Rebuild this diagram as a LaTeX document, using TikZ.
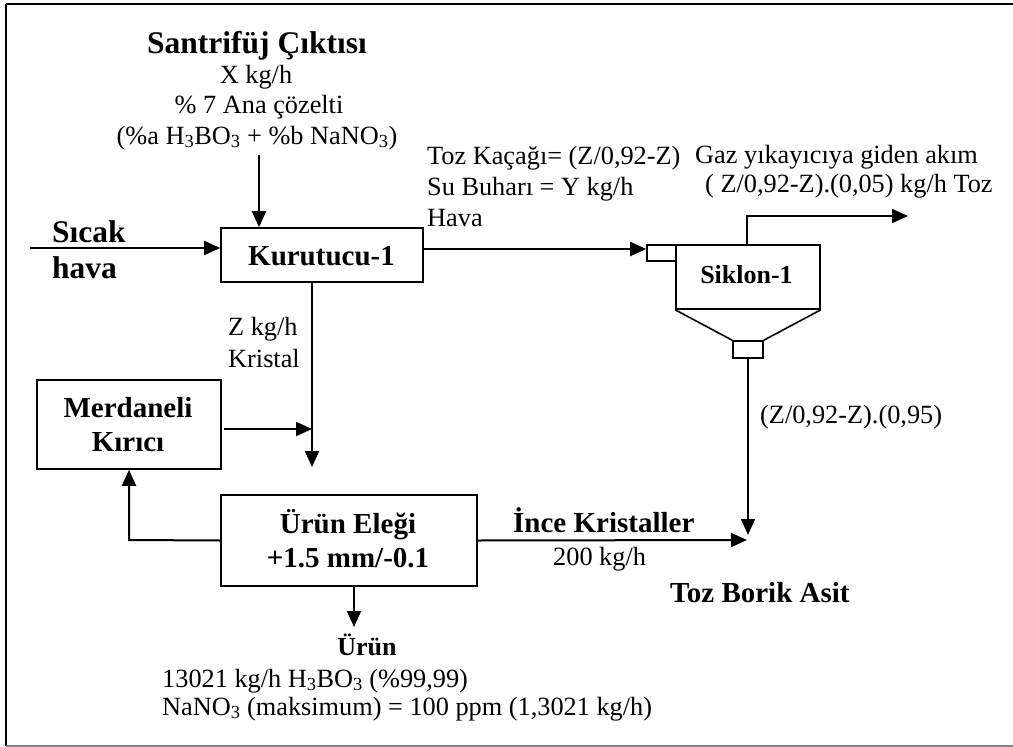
\documentclass[tikz,border=0pt]{standalone}
\usepackage{fontspec}
\setmainfont{Liberation Serif}
\usetikzlibrary{arrows.meta}
\newcommand\txtN{\fontsize{26.3}{30}\selectfont}
\newcommand\txtT{\fontsize{31.5}{36}\selectfont\bfseries}
\newcommand\txtB{\fontsize{29}{34}\selectfont\bfseries}
\newcommand\txtS{\fontsize{26}{30}\selectfont\bfseries}
\tikzset{
  lbl/.style={inner sep=0pt, anchor=base, font=\txtN},
  lblw/.style={inner sep=0pt, anchor=base west, font=\txtN},
  boxs/.style={draw, line width=1.6pt, inner sep=0pt},
  arr/.style={line width=2pt, -{Triangle[length=16pt,width=14pt]}},
  ln/.style={line width=2pt},
}
\begin{document}
\begin{tikzpicture}[x=1pt,y=-1pt]
\useasboundingbox (0,0) rectangle (1013,747);
% frame
\draw[line width=2pt] (6,4) -- (1013,4);
\draw[line width=2.5pt] (6,4) -- (6,746);
\draw[line width=1.5pt, gray] (6,746) -- (1013,746);

% boxes
\node[boxs, minimum width=202pt, minimum height=54pt] (kur) at (322,255) {};
\node[boxs, minimum width=184pt, minimum height=89pt] (mer) at (129,424.5) {};
\node[boxs, minimum width=256pt, minimum height=91pt] (ure) at (349,540.5) {};
\node[boxs, minimum width=144pt, minimum height=64pt] (sik) at (748,277) {};
\node[boxs, minimum width=29pt, minimum height=16pt] (inl) at (661.5,253) {};
\node[boxs, minimum width=30pt, minimum height=17pt] (out) at (748,349.5) {};
\draw[line width=1.6pt] (sik.south west) -- (out.north west);
\draw[line width=1.6pt] (sik.south east) -- (out.north east);

% labels in boxes
\node[lbl, font=\txtB] (kurT) at (321.5,265) {Kurutucu-1};
\node[lbl, font=\txtB] (merT1) at (128,417) {Merdaneli};
\node[lbl, font=\txtB] (merT2) at (128,451) {Kırıcı};
\node[lbl, font=\txtB] (ureT1) at (348,533) {Ürün Eleği};
\node[lbl, font=\txtB] (ureT2) at (348,567) {+1.5 mm/-0.1};
\node[lbl, font=\txtS] (sikT) at (746.5,283) {Siklon-1};

% coordinates
\coordinate (feed) at (259,155);
\coordinate (air) at (30,248);
\coordinate (j1) at (312,467);
\coordinate (j2) at (312,429);
\coordinate (gasc) at (747,216);
\coordinate (gasend) at (908,216);
\coordinate (tozv) at (748,535);
\coordinate (tozh) at (747,540);
\coordinate (prod) at (354,627);
\coordinate (retc) at (129,540);

% connectors
\draw[arr] (feed) -- ([xshift=-63pt]kur.north);
\draw[arr] (air) -- ([yshift=7pt]kur.west);
\draw[arr] ([yshift=6pt]kur.east) -- ([yshift=4pt]inl.west);
\draw[line width=2pt, -{Triangle[length=16pt,width=14pt]}] ([xshift=-1pt]sik.north) |- (gasend);
\draw[arr] ([xshift=-10pt]kur.south) -- (j1);
\draw[arr] ([yshift=-4.5pt,xshift=2pt]mer.east) -- (j2);
\draw[arr] (ure.west) -- (retc) -- (mer.south);
\draw[arr] (ure.east) -- (tozh);
\draw[line width=1.6pt, -{Triangle[length=16pt,width=14pt]}] (out.south) -- (tozv);
\draw[arr] ([xshift=5pt]ure.south) -- (prod);

% texts
\node[lbl, font=\txtT] (t1) at (257,53) {Santrifüj Çıktısı};
\node[lbl] (t2) at (256,83) {X kg/h};
\node[lbl] (t3) at (259,113) {\% 7 Ana çözelti};
\node[lbl] (t4) at (257,144) {(\%a H\textsubscript{3}BO\textsubscript{3} + \%b NaNO\textsubscript{3})};
\node[lblw, font=\txtT] (s1) at (52,242) {Sıcak};
\node[lblw, font=\txtT] (s2) at (52,278) {hava};
\node[lblw] (k1) at (427,164) {Toz Kaçağı= (Z/0,92-Z)};
\node[lblw] (k2) at (427,195) {Su Buharı = Y kg/h};
\node[lblw] (k3) at (427,226) {Hava};
\node[lblw] (g1) at (695,163) {Gaz yıkayıcıya giden akım};
\node[lblw] (g2) at (705,192) {( Z/0,92-Z).(0,05) kg/h Toz};
\node[lblw] (z1) at (228,335) {Z kg/h};
\node[lblw] (z2) at (228,367) {Kristal};
\node[lblw] (sk) at (760,423) {(Z/0,92-Z).(0,95)};
\node[lblw, font=\txtB] (ik) at (513,532) {İnce Kristaller};
\node[lblw] (ik2) at (553,565) {200 kg/h};
\node[lblw, font=\txtB] (tba) at (670,602) {Toz Borik Asit};
\node[lbl, font=\txtS] (ur) at (367,655) {Ürün};
\node[lblw] (ur1) at (162,687) {13021 kg/h H\textsubscript{3}BO\textsubscript{3} (\%99,99)};
\node[lblw] (ur2) at (162,715) {NaNO\textsubscript{3} (maksimum) = 100 ppm (1,3021 kg/h)};
\end{tikzpicture}
\end{document}
